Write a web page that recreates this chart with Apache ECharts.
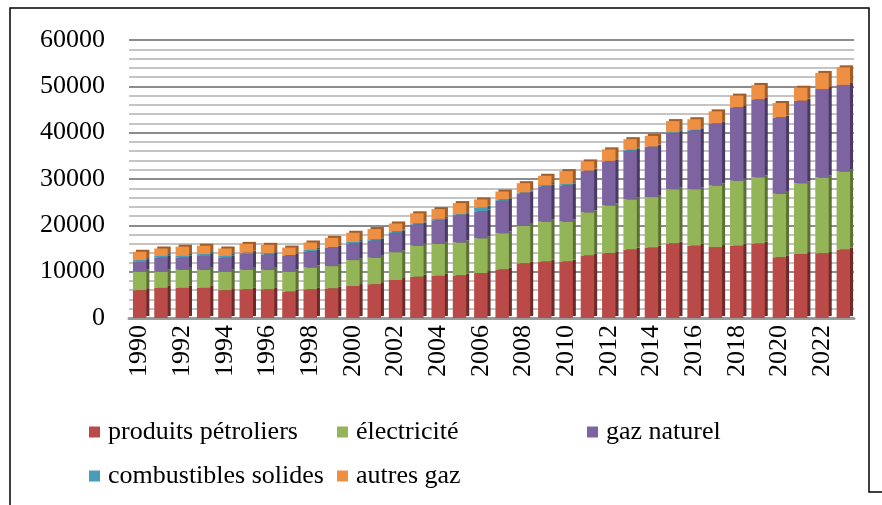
<!DOCTYPE html>
<html>
<head>
<meta charset="utf-8">
<script src="https://cdn.jsdelivr.net/npm/echarts@6/dist/echarts.min.js"></script>
<style>
  html, body { margin: 0; padding: 0; background: #fff; }
  #container { width: 882px; height: 505px; }
</style>
</head>
<body>
<div id="container"></div>
<script>
var years = [];
for (var y = 1990; y <= 2023; y++) years.push(String(y));

var petrole = [6000,6500,6500,6500,6000,6200,6200,5700,6200,6400,
               6900,7300,8200,8900,9100,9200,9700,10500,11800,12200,
               12200,13500,14000,14800,15200,16100,15600,15300,15600,16100,
               13100,13800,14000,14800];
var electricite = [4000,3500,3900,3900,4000,4200,4200,4300,4700,4800,
                   5600,5700,6000,6700,6900,7100,7500,7800,8100,8600,
                   8600,9300,10300,10800,10900,11700,12200,13300,14000,14300,
                   13700,15300,16300,16800];
var gazNaturel = [2100,3000,2600,3000,3000,3400,3300,3500,3500,4000,
                  3600,3700,4200,4600,5100,5900,5800,7000,7000,7600,
                  7800,8900,9500,10500,10800,12100,12700,13400,15900,16800,
                  16500,17800,19100,18700];
var combustibles = [400,400,400,400,400,300,300,100,300,100,
                    300,300,300,200,300,200,800,300,200,300,
                    300,100,100,200,100,200,100,0,0,0,
                    0,0,0,0];
var autresGaz = [1800,1600,2000,1800,1600,1900,1800,1600,1600,2000,
                 2000,2200,1700,2200,2100,2400,1800,1700,2000,2000,
                 2800,2000,2500,2300,2300,2400,2300,2600,2500,3100,
                 3100,2800,3500,3800];

var names = ['produits pétroliers', 'électricité', 'gaz naturel', 'combustibles solides', 'autres gaz'];
var colors = ['#B94A48', '#94B557', '#7D63A0', '#4A9DB8', '#EE9044'];
var sideColors = ['#6e2a28', '#5a7233', '#4a3a63', '#2a6172', '#a35d26'];
var values = [petrole, electricite, gazNaturel, combustibles, autresGaz];

var font = "'Liberation Serif', 'Times New Roman', serif";

var series = values.map(function (d, i) {
    return {
        name: names[i],
        type: 'bar',
        stack: 'total',
        barWidth: '63%',
        data: d,
        itemStyle: {
            color: colors[i],
            shadowColor: sideColors[i],
            shadowOffsetX: 3,
            shadowOffsetY: -2,
            shadowBlur: 0
        }
    };
});

// legend slots (left, top) as laid out in the original
var legendPos = [[89, 419], [337, 419], [587, 419], [89, 463], [337, 463]];
var legends = names.map(function (n, i) {
    return {
        data: [n],
        left: legendPos[i][0],
        top: legendPos[i][1],
        padding: 0,
        itemWidth: 11,
        itemHeight: 11,
        itemGap: 0,
        icon: 'rect',
        selectedMode: false,
        textStyle: { fontFamily: font, fontSize: 26, color: '#000', padding: [0, 0, 0, 3] }
    };
});

var option = {
    animation: false,
    color: colors,
    legend: legends,
    grid: { left: 129, right: 28, top: 40, bottom: 187 },
    xAxis: {
        type: 'category',
        data: years,
        axisLine: { lineStyle: { color: '#9a9a9a', width: 3 } },
        axisTick: { show: false },
        axisLabel: {
            rotate: 90,
            interval: 1,
            margin: 7,
            fontFamily: font,
            fontSize: 26,
            color: '#000'
        }
    },
    yAxis: {
        type: 'value',
        min: 0,
        max: 60000,
        interval: 10000,
        axisLine: { show: false },
        axisTick: { show: false },
        axisLabel: {
            margin: 24,
            fontFamily: font,
            fontSize: 26,
            color: '#000',
            formatter: function (v) { return String(v); }
        },
        splitLine: { lineStyle: { color: '#8c8c8c', width: 2 } },
        minorTick: { show: false, splitNumber: 5 },
        minorSplitLine: { show: true, lineStyle: { color: '#c4c4c4', width: 2 } }
    },
    graphic: [{
        type: 'polyline',
        shape: { points: [[10, 505], [10, 8], [869, 8], [869, 492], [882, 492]] },
        style: { stroke: '#000', lineWidth: 1.5, fill: null }
    }],
    series: series
};

var myChart = echarts.init(document.getElementById('container'));
myChart.setOption(option);
</script>
</body>
</html>
